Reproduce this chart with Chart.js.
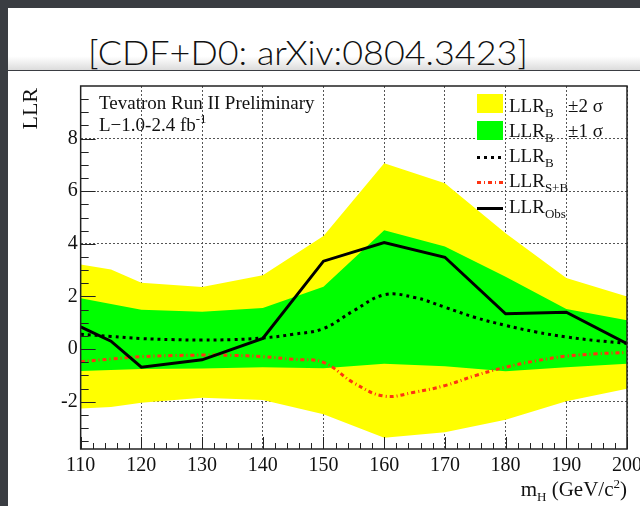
<!DOCTYPE html>
<html>
<head>
<meta charset="utf-8">
<script src="https://cdn.jsdelivr.net/npm/chart.js@4.4.1/dist/chart.umd.min.js"></script>
<style>
  html, body { margin: 0; padding: 0; width: 640px; height: 506px; overflow: hidden; background: #3a3d42; }
  #title {
    position: absolute; left: 8px; top: 8px; width: 632px; height: 62px;
    background: linear-gradient(#ffffff 0%, #ffffff 78%, #dcdcdc 100%);
  }
  #title span {
    position: absolute; left: 80px; top: 23px; white-space: nowrap;
    font-family: "Lato", sans-serif; font-weight: 300; font-size: 34px; color: #111;
    transform-origin: 0 0;
  }
  #wrap { position: absolute; left: 8px; top: 71px; width: 652px; height: 435px; background: #fff; }
</style>
</head>
<body>
<div id="title"><span id="titleText">[CDF+D0: arXiv:0804.3423]</span></div>
<div id="wrap"><canvas id="llrChart"></canvas></div>
<script>
// Helper: Get element by ID
const getEl = (id) => document.getElementById(id);

// --- Data ---
const massBand = [110, 115, 120, 130, 140, 150, 160, 170, 180, 190, 200];
const yellowHi = [3.21, 3.02, 2.52, 2.36, 2.81, 4.30, 7.06, 6.30, 4.40, 2.70, 2.00];
const yellowLo = [-2.26, -2.20, -2.04, -1.85, -1.94, -2.48, -3.37, -3.16, -2.69, -1.98, -1.51];
const greenHi = [1.93, 1.71, 1.49, 1.42, 1.56, 2.37, 4.52, 3.90, 2.75, 1.52, 1.09];
const greenLo = [-0.83, -0.80, -0.76, -0.74, -0.69, -0.73, -0.56, -0.65, -0.84, -0.69, -0.56];
const llrObs = [0.84, 0.30, -0.69, -0.41, 0.40, 3.34, 4.05, 3.49, 1.34, 1.40, 0.20];

const massCurve = [110, 115, 120, 125, 130, 135, 140, 145, 150, 155, 160, 165, 170, 175, 180, 185, 190, 195, 200];
const llrB = [0.56, 0.48, 0.40, 0.36, 0.34, 0.36, 0.42, 0.56, 0.78, 1.46, 2.06, 1.96, 1.59, 1.20, 0.90, 0.65, 0.46, 0.32, 0.22];
const llrSB = [-0.48, -0.38, -0.29, -0.25, -0.23, -0.24, -0.29, -0.39, -0.51, -1.29, -1.79, -1.64, -1.39, -1.01, -0.69, -0.45, -0.27, -0.18, -0.13];

const xTicks = [110, 120, 130, 140, 150, 160, 170, 180, 190, 200];
const yTicks = [-2, 0, 2, 4, 6, 8];

const SERIF = '"Liberation Serif", "Times New Roman", serif';
const YELLOW = '#ffff00';
const GREEN = '#00ff00';
const RED = '#ff3311';

const pts = (xs, ys) => xs.map((m, i) => ({ x: m, y: ys[i] }));

// Draw text with sub/superscripts: parts = [[text, size, dy], ...]
function rich(ctx, x, y, parts, align) {
    let total = 0;
    parts.forEach(p => { ctx.font = p[1] + 'px ' + SERIF; total += ctx.measureText(p[0]).width; });
    let cx = align === 'right' ? x - total : x;
    ctx.textAlign = 'left';
    ctx.textBaseline = 'alphabetic';
    parts.forEach(p => {
        ctx.font = p[1] + 'px ' + SERIF;
        ctx.fillText(p[0], cx, y + (p[2] || 0));
        cx += ctx.measureText(p[0]).width;
    });
}

const decor = {
    id: 'decor',
    afterDatasetsDraw(chart) {
        const { ctx, chartArea: a, scales: { x, y } } = chart;
        ctx.save();
        ctx.strokeStyle = '#222';
        ctx.lineWidth = 1;

        // inner tick marks (ROOT style)
        ctx.beginPath();
        for (let m = 110; m <= 200; m += 2) {
            const px = Math.round(x.getPixelForValue(m)) + 0.5;
            const len = m % 10 === 0 ? 12 : 6;
            ctx.moveTo(px, a.bottom);
            ctx.lineTo(px, a.bottom - len);
        }
        for (let k = -7; k <= 19; k++) {
            const v = k / 2;
            const py = Math.round(y.getPixelForValue(v)) + 0.5;
            const len = k % 4 === 0 ? 15 : 8;
            ctx.moveTo(a.left, py);
            ctx.lineTo(a.left + len, py);
        }
        ctx.stroke();

        // frame
        ctx.lineWidth = 1.5;
        ctx.strokeRect(a.left, a.top, a.right - a.left, a.bottom - a.top);

        ctx.fillStyle = '#111';
        // caption inside the frame
        rich(ctx, 91, 38, [['Tevatron Run II Preliminary', 19]]);
        rich(ctx, 91, 60, [['L\u22121.0-2.4 fb', 19], ['-1', 13, -8]]);

        // legend
        const lx = a.right - 150;
        const tx = a.right - 118;
        const top = a.top;
        ctx.fillStyle = YELLOW;
        ctx.fillRect(lx, top + 8, 26, 19);
        ctx.fillStyle = GREEN;
        ctx.fillRect(lx, top + 35, 26, 19);

        ctx.lineWidth = 3;
        ctx.strokeStyle = '#000';
        ctx.setLineDash([3, 4]);
        ctx.beginPath(); ctx.moveTo(lx, top + 71.5); ctx.lineTo(lx + 26, top + 71.5); ctx.stroke();
        ctx.strokeStyle = RED;
        ctx.setLineDash([4, 3, 1, 3]);
        ctx.beginPath(); ctx.moveTo(lx, top + 96.5); ctx.lineTo(lx + 26, top + 96.5); ctx.stroke();
        ctx.strokeStyle = '#000';
        ctx.setLineDash([]);
        ctx.beginPath(); ctx.moveTo(lx, top + 122.5); ctx.lineTo(lx + 26, top + 122.5); ctx.stroke();

        ctx.fillStyle = '#111';
        rich(ctx, tx, top + 26, [['LLR', 19], ['B', 13, 5]]);
        rich(ctx, a.right - 59, top + 26, [['\u00b12 \u03c3', 19]]);
        rich(ctx, tx, top + 51, [['LLR', 19], ['B', 13, 5]]);
        rich(ctx, a.right - 59, top + 51, [['\u00b11 \u03c3', 19]]);
        rich(ctx, tx, top + 76, [['LLR', 19], ['B', 13, 5]]);
        rich(ctx, tx, top + 101, [['LLR', 19], ['S+B', 13, 5]]);
        rich(ctx, tx, top + 127, [['LLR', 19], ['Obs', 13, 5]]);

        // axis titles
        rich(ctx, a.right, 425, [['m', 21], ['H', 13, 5], [' (GeV/c', 21], ['2', 13, -8], [')', 21]], 'right');
        ctx.save();
        ctx.translate(29, 17);
        ctx.rotate(-Math.PI / 2);
        ctx.font = '22px ' + SERIF;
        ctx.textAlign = 'right';
        ctx.fillText('LLR', 0, 0);
        ctx.restore();

        ctx.restore();
    }
};

const bandLine = (data, fill, order, color) => ({
    data, fill, order,
    backgroundColor: color,
    borderColor: 'rgba(0,0,0,0)',
    borderWidth: 0,
    pointRadius: 0,
    tension: 0
});

new Chart(getEl('llrChart').getContext('2d'), {
    type: 'line',
    data: {
        datasets: [
            { label: 'LLR Obs', data: pts(massBand, llrObs), order: 0, borderColor: '#000', borderWidth: 3, pointRadius: 0, tension: 0, fill: false },
            { label: 'LLR B', data: pts(massCurve, llrB), order: 1, borderColor: '#000', borderWidth: 3, borderDash: [3, 4], pointRadius: 0, tension: 0.4, fill: false },
            { label: 'LLR S+B', data: pts(massCurve, llrSB), order: 2, borderColor: RED, borderWidth: 3, borderDash: [4, 3, 1, 3], pointRadius: 0, tension: 0.4, fill: false },
            bandLine(pts(massBand, greenHi), '+1', 3, GREEN),
            bandLine(pts(massBand, greenLo), false, 4, GREEN),
            bandLine(pts(massBand, yellowHi), '+1', 5, YELLOW),
            bandLine(pts(massBand, yellowLo), false, 6, YELLOW)
        ]
    },
    options: {
        responsive: true,
        maintainAspectRatio: false,
        animation: false,
        layout: { padding: { left: 50, right: 33, top: 14.6, bottom: 23 } },
        plugins: { legend: { display: false }, tooltip: { enabled: false } },
        scales: {
            x: {
                type: 'linear', min: 110, max: 200,
                afterBuildTicks: (s) => { s.ticks = xTicks.map(v => ({ value: v })); },
                grid: { color: '#555', lineWidth: 1, drawTicks: false },
                border: { display: false, dash: [2, 2] },
                ticks: { padding: 5, color: '#111', font: { family: SERIF, size: 20 } }
            },
            y: {
                type: 'linear', min: -3.8, max: 10,
                afterBuildTicks: (s) => { s.ticks = yTicks.map(v => ({ value: v })); },
                grid: { color: '#555', lineWidth: 1, drawTicks: false },
                border: { display: false, dash: [2, 2] },
                ticks: { padding: 3, color: '#111', font: { family: SERIF, size: 20 } }
            }
        }
    },
    plugins: [decor]
});

// fit the title text to its width in the reference
const t = getEl('titleText');
const w = t.getBoundingClientRect().width;
t.style.transform = 'scaleX(' + (440 / w) + ')';
</script>
</body>
</html>
